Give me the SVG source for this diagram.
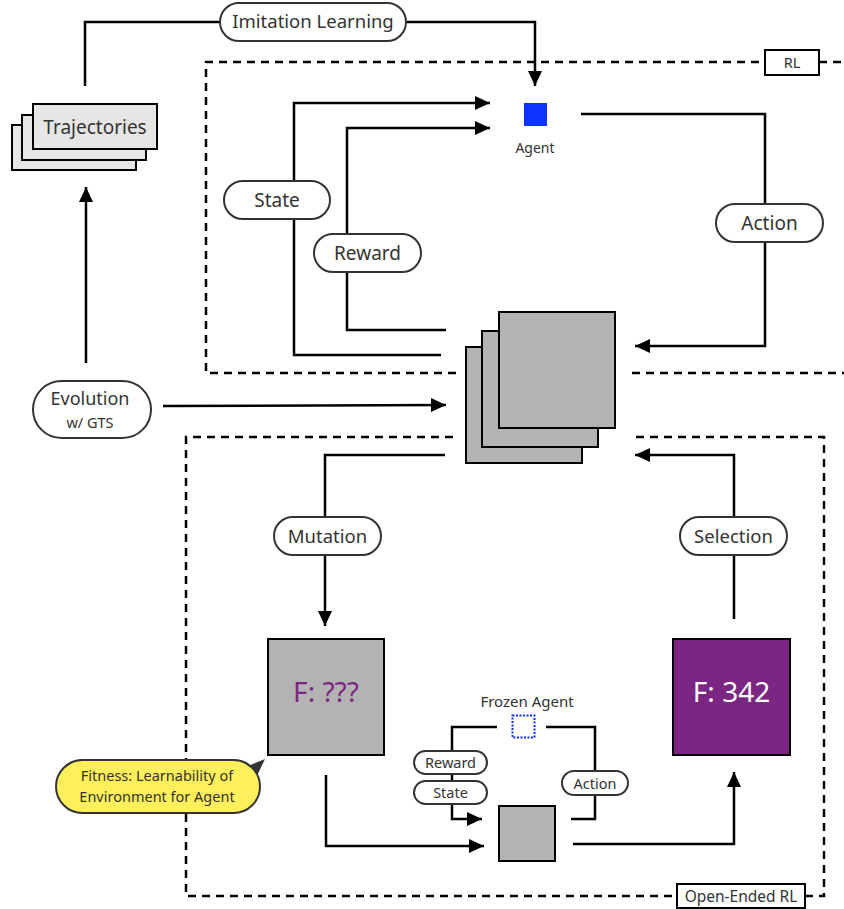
<svg xmlns="http://www.w3.org/2000/svg" width="844" height="909" viewBox="0 0 844 909">
<defs>
<style>
.t{font-family:"Noto Sans","Liberation Sans",sans-serif;fill:#333;}
.pill{fill:#fff;stroke:#333;stroke-width:2;}
.c{fill:none;stroke:#000;stroke-width:2.5;}
.dash{fill:none;stroke:#000;stroke-width:2.5;stroke-dasharray:8 6;}
.env{fill:#b3b3b3;stroke:#000;stroke-width:2;}
.traj{fill:#e6e6e6;stroke:#000;stroke-width:2;}
</style>
<marker id="ah" markerUnits="userSpaceOnUse" markerWidth="16" markerHeight="14" refX="15" refY="7" orient="auto">
<path d="M0,0 L15,7 L0,14 Z" fill="#000"/>
</marker>
</defs>
<rect width="844" height="909" fill="#fff"/>

<g id="boundaries">
<path class="dash" d="M456,373 H206 V62 H765"/>
<path class="dash" d="M819,62 H844"/>
<path class="dash" d="M632,373 H844"/>
<path class="dash" d="M453,437 H186 V896 H677"/>
<path class="dash" d="M805,896 H824 V437 H630"/>
</g>

<g id="connectors">
<path class="c" d="M85,86 V22 H220"/>
<path class="c" d="M406,22 H535 V86" marker-end="url(#ah)"/>
<path class="c" d="M441,355 H294 V103 H490" marker-end="url(#ah)"/>
<path class="c" d="M446,330 H347 V128 H490" marker-end="url(#ah)"/>
<path class="c" d="M581,114 H765 V346 H635" marker-end="url(#ah)"/>
<path class="c" d="M86,363 V187" marker-end="url(#ah)"/>
<path class="c" d="M163,406 L446,405" marker-end="url(#ah)"/>
<path class="c" d="M445,455 H325 V626" marker-end="url(#ah)"/>
<path class="c" d="M734,619 V455 H635" marker-end="url(#ah)"/>
<path class="c" d="M326,775 V846 H484" marker-end="url(#ah)"/>
<path class="c" d="M573,844 H734 V772" marker-end="url(#ah)"/>
<path class="c" d="M497,727 H452 V819 H482" marker-end="url(#ah)"/>
<path class="c" d="M546,727 H595 V819 H571"/>
</g>

<g id="imitation-learning">
<rect class="pill" x="220" y="3" width="186" height="38" rx="19"/>
<text class="t" x="313" y="28" font-size="18.5" text-anchor="middle">Imitation Learning</text>
</g>

<g id="rl-label">
<rect x="765" y="50" width="54" height="25" fill="#fff" stroke="#000" stroke-width="2"/>
<text class="t" x="792" y="68" font-size="14.5" text-anchor="middle">RL</text>
</g>

<g id="agent">
<rect x="524" y="103" width="23" height="23" fill="#0f33ff"/>
<text class="t" x="535" y="153" font-size="14" text-anchor="middle">Agent</text>
</g>

<g id="state-label">
<rect class="pill" x="224" y="181" width="106" height="38" rx="19"/>
<text class="t" x="277" y="206.5" font-size="19" text-anchor="middle">State</text>
</g>
<g id="reward-label">
<rect class="pill" x="314" y="234" width="107" height="38" rx="19"/>
<text class="t" x="367.5" y="259.5" font-size="19" text-anchor="middle">Reward</text>
</g>
<g id="action-label">
<rect class="pill" x="716" y="204" width="107" height="38" rx="19"/>
<text class="t" x="769.5" y="229.5" font-size="19" text-anchor="middle">Action</text>
</g>

<g id="trajectories">
<rect class="traj" x="12" y="125" width="124" height="45"/>
<rect class="traj" x="22" y="115" width="124" height="45"/>
<rect class="traj" x="33" y="104" width="124" height="45"/>
<text class="t" x="95" y="133.5" font-size="19" text-anchor="middle">Trajectories</text>
</g>

<g id="environments">
<rect class="env" x="466" y="347" width="116" height="116"/>
<rect class="env" x="482" y="331" width="116" height="116"/>
<rect class="env" x="499" y="312" width="116" height="116"/>
</g>

<g id="evolution">
<rect class="pill" x="33" y="381" width="118" height="57" rx="28.5"/>
<text class="t" x="90" y="405" font-size="18" text-anchor="middle">Evolution</text>
<text class="t" x="90" y="428" font-size="14.5" text-anchor="middle">w/ GTS</text>
</g>

<g id="mutation-label">
<rect class="pill" x="274" y="517" width="107" height="38" rx="19"/>
<text class="t" x="327.5" y="542.5" font-size="18.5" text-anchor="middle">Mutation</text>
</g>
<g id="selection-label">
<rect class="pill" x="680" y="517" width="107" height="38" rx="19"/>
<text class="t" x="733.5" y="542.5" font-size="18.5" text-anchor="middle">Selection</text>
</g>

<g id="env-unknown">
<rect class="env" x="268" y="639" width="116" height="116"/>
<text x="326" y="702" font-size="28" text-anchor="middle" font-family="Noto Sans, Liberation Sans, sans-serif" fill="#7b2682">F: ???</text>
</g>

<g id="env-342">
<rect x="673" y="639" width="117" height="116" fill="#7b2682" stroke="#000" stroke-width="2"/>
<text x="731.5" y="702" font-size="28" text-anchor="middle" font-family="Noto Sans, Liberation Sans, sans-serif" fill="#fff">F: 342</text>
</g>

<g id="fitness-note">
<path d="M238,770 L265,759 L254,782 Z" fill="#333"/>
<rect x="56" y="760" width="204" height="53" rx="26.5" fill="#ffef5a" stroke="#333" stroke-width="2"/>
<text class="t" x="157" y="781" font-size="14.5" text-anchor="middle">Fitness: Learnability of</text>
<text class="t" x="157" y="802" font-size="14.5" text-anchor="middle">Environment for Agent</text>
</g>

<g id="frozen-agent">
<rect x="512.5" y="715.5" width="22" height="22" fill="none" stroke="#0f33ff" stroke-width="2" stroke-dasharray="2 1.5"/>
<text class="t" x="527" y="707" font-size="15" text-anchor="middle">Frozen Agent</text>
</g>

<g id="small-reward">
<rect class="pill" x="414" y="751" width="73" height="23" rx="11.5"/>
<text class="t" x="450.5" y="768" font-size="14.5" text-anchor="middle">Reward</text>
</g>
<g id="small-state">
<rect class="pill" x="414" y="781" width="73" height="23" rx="11.5"/>
<text class="t" x="450.5" y="798" font-size="14.5" text-anchor="middle">State</text>
</g>
<g id="small-action">
<rect class="pill" x="562" y="771" width="66" height="24" rx="12"/>
<text class="t" x="595" y="788.5" font-size="14.5" text-anchor="middle">Action</text>
</g>

<g id="env-small">
<rect class="env" x="499" y="806" width="56" height="55"/>
</g>

<g id="oerl-label">
<rect x="677" y="884" width="128" height="24" fill="#fff" stroke="#000" stroke-width="2"/>
<text class="t" x="741" y="901.5" font-size="15.5" text-anchor="middle">Open-Ended RL</text>
</g>
</svg>
